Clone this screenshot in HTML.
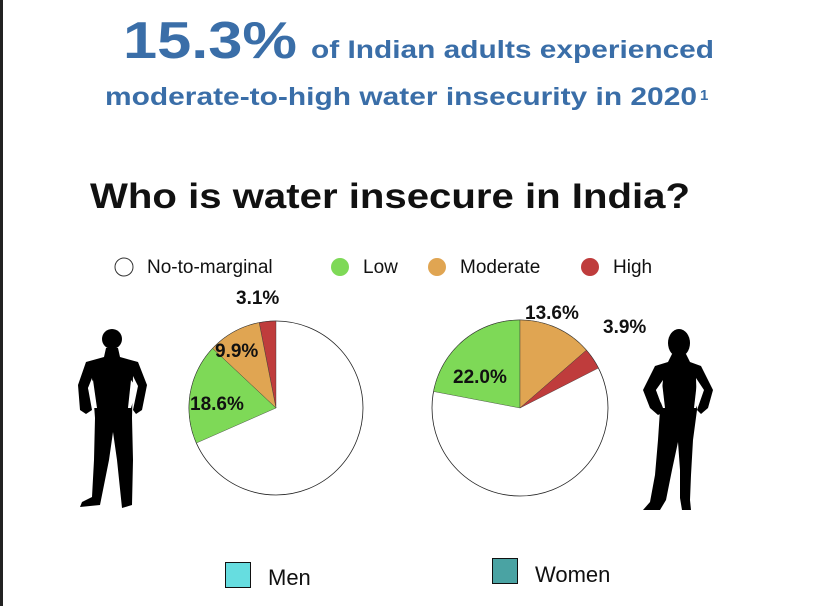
<!DOCTYPE html>
<html><head><meta charset="utf-8"><style>
body{margin:0;background:#fff;}
svg text{font-family:"Liberation Sans",sans-serif;}
</style></head><body>
<svg width="820" height="606" viewBox="0 0 820 606" xmlns="http://www.w3.org/2000/svg">
<rect x="0" y="0" width="820" height="606" fill="#fff"/>
<rect x="0" y="0" width="3" height="606" fill="#222"/>
<text x="123" y="58" font-size="52" font-weight="bold" fill="#3a6ea8" textLength="174" lengthAdjust="spacingAndGlyphs">15.3%</text>
<text x="311" y="58" font-size="25" font-weight="bold" fill="#3a6ea8" textLength="403" lengthAdjust="spacingAndGlyphs">of Indian adults experienced</text>
<text x="105" y="105" font-size="25" font-weight="bold" fill="#3a6ea8" textLength="592" lengthAdjust="spacingAndGlyphs">moderate-to-high water insecurity in 2020</text>
<text x="700" y="100" font-size="15" font-weight="bold" fill="#3a6ea8">1</text>
<text x="90" y="208" font-size="35" font-weight="bold" fill="#111" textLength="600" lengthAdjust="spacingAndGlyphs">Who is water insecure in India?</text>
<g id="legend"></g>
<g id="pies"></g>
<g>
<circle cx="112" cy="339" r="10" fill="#000"/>
<path fill="#000" d="M106 348 L118 348 L120 357 L138 362 L147 385 L142 410 L136 414 L133 410 L138 386 L133 376 L132 418 L133 460 L132 505 L122 508 L117 460 L113 432 L109 460 L100 505 L80 507 L82 502 L92 497 L94 460 L95 418 L92 378 L88 388 L92 410 L86 414 L80 410 L78 385 L86 362 L104 357 Z"/>
<path fill="#fff" d="M93 380 L88 388 L94 408 L97 408 Z"/>
<path fill="#fff" d="M131 380 L137 388 L131 408 L128 408 Z"/>
</g>
<g>
<ellipse cx="679" cy="343" rx="11" ry="14" fill="#000"/>
<path fill="#000" d="M672 354 L686 354 L690 362 L701 366 L713 390 L708 408 L701 414 L697 410 L704 390 L696 378 L697 410 L693 440 L691 475 L690 500 L691 510 L682 510 L680 498 L680 470 L678 442 L672 470 L666 500 L660 510 L643 510 L650 502 L655 475 L658 440 L660 410 L663 380 L656 390 L664 412 L658 415 L650 408 L643 390 L655 366 L668 362 Z"/>
<path fill="#fff" d="M662 382 L656 390 L663 408 L665 408 Z"/>
<path fill="#fff" d="M697 382 L703 390 L696 408 L694 408 Z"/>
</g>
<rect x="225.5" y="562.5" width="25" height="25" fill="#66dde0" stroke="#111"/>
<text x="268" y="585" font-size="22" fill="#111">Men</text>
<rect x="492.5" y="558.5" width="25" height="25" fill="#4aa3a3" stroke="#111"/>
<text x="535" y="582" font-size="22" fill="#111">Women</text>
</svg>
<script>
const categories = ["No-to-marginal","Low","Moderate","High"];
const colors = ["#ffffff","#7ed957","#e0a552","#bf3c3c"];
const menValues = [68.4, 18.6, 9.9, 3.1];
const womenValues = [60.5, 22.0, 13.6, 3.9];
const menLabels = ["", "18.6%", "9.9%", "3.1%"];
const womenLabels = ["", "22.0%", "13.6%", "3.9%"];
const NS="http://www.w3.org/2000/svg";
const pies=document.getElementById('pies');
const legend=document.getElementById('legend');
const legX=[124,340,437,590];
categories.forEach((c,i)=>{
  const ci=document.createElementNS(NS,'circle');
  ci.setAttribute('cx',legX[i]);ci.setAttribute('cy',267);ci.setAttribute('r',9);
  ci.setAttribute('fill',colors[i]);ci.setAttribute('stroke',i===0?'#333':'none');
  
  
  legend.appendChild(ci);
  const t=document.createElementNS(NS,'text');
  t.setAttribute('x',legX[i]+23);t.setAttribute('y',273);t.setAttribute('font-size','19');t.setAttribute('fill','#111');
  t.textContent=c;
  
  
  legend.appendChild(t);
});
function pt(cx,cy,r,a){return [cx+r*Math.sin(a),cy-r*Math.cos(a)];}
function drawPie(cx,cy,r,vals,name,labels,labelPos){
  const tot=vals.reduce((a,b)=>a+b,0);
  const ang=v=>v/tot*2*Math.PI;
  const g=document.createElementNS(NS,'g');
  
  
  pies.appendChild(g);
  const bg=document.createElementNS(NS,'circle');
  bg.setAttribute('cx',cx);bg.setAttribute('cy',cy);bg.setAttribute('r',r);bg.setAttribute('fill','#fff');bg.setAttribute('stroke','#222');bg.setAttribute('stroke-width','0.8');
  g.appendChild(bg);
  let segs;
  if(name==='men-pie'){
    let a=0; segs=[];
    [3,2,1].forEach(i=>{segs.push([i,a-ang(vals[i]),a]);a-=ang(vals[i]);});
  } else {
    segs=[];
    segs.push([1,-ang(vals[1]),0]);
    segs.push([2,0,ang(vals[2])]);
    segs.push([3,ang(vals[2]),ang(vals[2])+ang(vals[3])]);
  }
  segs.forEach(([i,a0,a1])=>{
    const p0=pt(cx,cy,r,a0),p1=pt(cx,cy,r,a1);
    const p=document.createElementNS(NS,'path');
    p.setAttribute('d',`M${cx} ${cy} L${p0[0]} ${p0[1]} A${r} ${r} 0 ${a1-a0>Math.PI?1:0} 1 ${p1[0]} ${p1[1]} Z`);
    p.setAttribute('fill',colors[i]);p.setAttribute('stroke','#333');p.setAttribute('stroke-width','0.4');
    
    
    g.appendChild(p);
  });
  labels.forEach((l,i)=>{
    if(!l)return;
    const t=document.createElementNS(NS,'text');
    t.setAttribute('x',labelPos[i][0]);t.setAttribute('y',labelPos[i][1]);
    t.setAttribute('font-size','19');t.setAttribute('font-weight','bold');t.setAttribute('fill','#111');
    t.textContent=l;
    
    
    g.appendChild(t);
  });
}
drawPie(276,408,87,menValues,'men-pie',menLabels,[null,[190,410],[215,357],[236,304]]);
drawPie(520,408,88,womenValues,'women-pie',womenLabels,[null,[453,383],[525,319],[603,333]]);
</script>
</body></html>
